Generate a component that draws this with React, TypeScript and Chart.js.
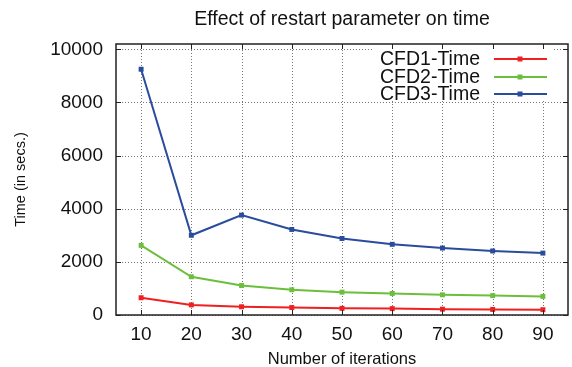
import React, { useEffect, useRef } from "react";
import { Chart, registerables } from "chart.js";

Chart.register(...registerables);

const iterations = [10, 20, 30, 40, 50, 60, 70, 80, 90];
const cfd1Time = [650, 380, 310, 280, 250, 240, 220, 210, 200];
const cfd2Time = [2620, 1440, 1110, 950, 860, 810, 760, 730, 700];
const cfd3Time = [9250, 3000, 3760, 3220, 2880, 2660, 2520, 2410, 2330];
const xTicks = [10, 20, 30, 40, 50, 60, 70, 80, 90];
const yTicks = [0, 2000, 4000, 6000, 8000, 10000];
const seriesNames = ["CFD1-Time", "CFD2-Time", "CFD3-Time"];
const seriesColors = ["#ee2020", "#6cbf3c", "#2a4c9c"];

const FONT = "'Liberation Sans', Arial, Helvetica, sans-serif";

const framePlugin = {
  id: "gnuplotFrame",
  beforeDatasetsDraw(chart: any) {
    const { ctx, chartArea } = chart;
    const xs = chart.scales.x;
    const ys = chart.scales.y;
    ctx.save();
    ctx.strokeStyle = "#777";
    ctx.lineWidth = 1;
    ctx.setLineDash([1, 2]);
    xTicks.forEach((v) => {
      const px = Math.round(xs.getPixelForValue(v)) + 0.5;
      ctx.beginPath();
      ctx.moveTo(px, chartArea.top);
      ctx.lineTo(px, chartArea.bottom);
      ctx.stroke();
    });
    yTicks.forEach((v) => {
      const py = Math.round(ys.getPixelForValue(v)) + 0.5;
      ctx.beginPath();
      ctx.moveTo(chartArea.left, py);
      ctx.lineTo(chartArea.right, py);
      ctx.stroke();
    });
    ctx.restore();
  },
  afterDatasetsDraw(chart: any) {
    const { ctx, chartArea } = chart;
    const xs = chart.scales.x;
    const ys = chart.scales.y;
    ctx.save();
    // legend box
    ctx.fillStyle = "#fff";
    ctx.fillRect(372, chartArea.top, 181, 57);
    const rows = [59, 77, 94];
    chart.data.datasets.forEach((ds: any, i: number) => {
      const y = rows[i];
      ctx.fillStyle = "#111";
      ctx.font = `19.5px ${FONT}`;
      ctx.textAlign = "right";
      ctx.textBaseline = "middle";
      ctx.fillText(ds.label, 480, y + 1);
      ctx.strokeStyle = ds.borderColor;
      ctx.lineWidth = 2;
      ctx.beginPath();
      ctx.moveTo(494, y);
      ctx.lineTo(547, y);
      ctx.stroke();
      ctx.fillStyle = ds.borderColor;
      ctx.fillRect(520 - 2.5, y - 2.5, 5, 5);
    });
    // border
    ctx.strokeStyle = "#222";
    ctx.lineWidth = 1.5;
    ctx.strokeRect(chartArea.left, chartArea.top, chartArea.right - chartArea.left, chartArea.bottom - chartArea.top);
    // inner ticks
    ctx.lineWidth = 1;
    const tl = 5;
    xTicks.forEach((v) => {
      const px = Math.round(xs.getPixelForValue(v)) + 0.5;
      ctx.beginPath();
      ctx.moveTo(px, chartArea.bottom);
      ctx.lineTo(px, chartArea.bottom - tl);
      ctx.moveTo(px, chartArea.top);
      ctx.lineTo(px, chartArea.top + tl);
      ctx.stroke();
    });
    yTicks.forEach((v) => {
      const py = Math.round(ys.getPixelForValue(v)) + 0.5;
      ctx.beginPath();
      ctx.moveTo(chartArea.left, py);
      ctx.lineTo(chartArea.left + tl, py);
      ctx.moveTo(chartArea.right, py);
      ctx.lineTo(chartArea.right - tl, py);
      ctx.stroke();
    });
    ctx.restore();
  },
};

export default function App() {
  const ref = useRef<HTMLCanvasElement | null>(null);
  useEffect(() => {
    document.body.style.margin = "0";
    const canvas = ref.current;
    if (!canvas) return;
    const series = [cfd1Time, cfd2Time, cfd3Time];
    const chart = new Chart(canvas, {
      type: "line",
      data: {
        datasets: series.map((vals, i) => ({
          label: seriesNames[i],
          data: iterations.map((x, j) => ({ x, y: vals[j] })),
          borderColor: seriesColors[i],
          backgroundColor: seriesColors[i],
          borderWidth: 2,
          pointStyle: "rect",
          pointRadius: 3.5,
          pointBorderWidth: 0,
          tension: 0,
        })),
      },
      options: {
        animation: false,
        responsive: false,
        devicePixelRatio: 1,
        layout: { padding: { top: 0, right: 2, left: 0, bottom: 0 } },
        plugins: {
          legend: { display: false },
          tooltip: { enabled: false },
          title: {
            display: true,
            text: "Effect of restart parameter on time",
            fullSize: false,
            color: "#111",
            font: { family: FONT, size: 19.5, weight: "normal", lineHeight: 1.2 },
            padding: { top: 8, bottom: 12.6 },
          },
        },
        scales: {
          x: {
            type: "linear",
            min: 5,
            max: 95,
            afterBuildTicks: (s: any) => {
              s.ticks = xTicks.map((v) => ({ value: v }));
            },
            afterFit: (s: any) => {
              s.height = 52;
            },
            grid: { display: false, drawTicks: false },
            border: { display: false },
            ticks: {
              color: "#111",
              padding: 8,
              font: { family: FONT, size: 19 },
              callback: (v: any) => String(v),
            },
            title: {
              display: true,
              text: "Number of iterations",
              color: "#111",
              font: { family: FONT, size: 16.5, lineHeight: 0.8 },
              padding: { top: 0, bottom: 1 },
            },
          },
          y: {
            type: "linear",
            min: 0,
            max: 10200,
            afterBuildTicks: (s: any) => {
              s.ticks = yTicks.map((v) => ({ value: v }));
            },
            afterFit: (s: any) => {
              s.width = 116;
            },
            grid: { display: false, drawTicks: false },
            border: { display: false },
            ticks: {
              color: "#111",
              padding: 13,
              font: { family: FONT, size: 19 },
              callback: (v: any) => String(v),
            },
            title: {
              display: true,
              text: "Time (in secs.)",
              color: "#111",
              font: { family: FONT, size: 14.5, lineHeight: 1 },
              padding: { top: 14, bottom: 0 },
            },
          },
        },
      },
      plugins: [framePlugin],
    } as any);
    return () => chart.destroy();
  }, []);
  return (
    <div style={{ width: 572, height: 367 }}>
      <canvas ref={ref} width={572} height={367} />
    </div>
  );
}
